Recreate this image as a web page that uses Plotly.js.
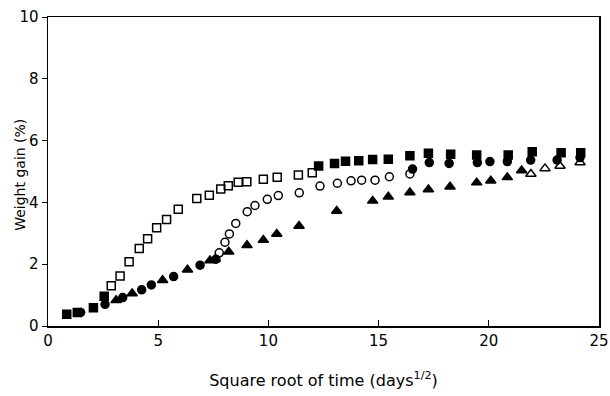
<!DOCTYPE html>
<html>
<head>
<meta charset="utf-8">
<script src="https://cdn.plot.ly/plotly-3.0.1.min.js"></script>
<style>html,body{margin:0;padding:0;background:#fff;}#chart{width:610px;height:396px;}</style>
</head>
<body>
<div id="chart"></div>
<script>
// Filled squares
const sqFilledX = [0.85, 1.33, 2.06, 2.55, 12.28, 13.0, 13.5, 14.1, 14.73, 15.44, 16.42, 17.26, 18.27, 19.45, 20.88, 21.97, 23.28, 24.17];
const sqFilledY = [0.38, 0.44, 0.59, 0.96, 5.18, 5.26, 5.33, 5.35, 5.39, 5.40, 5.51, 5.59, 5.56, 5.53, 5.53, 5.64, 5.61, 5.61];
// Open squares
const sqOpenX = [2.87, 3.27, 3.68, 4.14, 4.52, 4.93, 5.38, 5.91, 6.75, 7.32, 7.84, 8.18, 8.63, 9.02, 9.77, 10.4, 11.36, 11.99];
const sqOpenY = [1.30, 1.62, 2.08, 2.51, 2.82, 3.18, 3.45, 3.78, 4.13, 4.23, 4.43, 4.54, 4.65, 4.67, 4.75, 4.81, 4.89, 4.96];
// Filled circles
const ciFilledX = [1.48, 2.59, 3.39, 4.25, 4.69, 5.70, 6.90, 7.62, 16.54, 17.3, 18.2, 19.48, 20.05, 20.84, 21.9, 23.1, 24.14];
const ciFilledY = [0.44, 0.70, 0.92, 1.17, 1.33, 1.60, 1.97, 2.16, 5.08, 5.29, 5.26, 5.29, 5.32, 5.32, 5.37, 5.37, 5.45];
// Open circles
const ciOpenX = [7.77, 8.03, 8.23, 8.52, 9.04, 9.39, 9.95, 10.45, 11.4, 12.34, 13.13, 13.75, 14.23, 14.84, 15.49, 16.42];
const ciOpenY = [2.37, 2.71, 2.98, 3.32, 3.70, 3.90, 4.10, 4.22, 4.31, 4.53, 4.62, 4.70, 4.72, 4.72, 4.83, 4.92];
// Filled triangles
const trFilledX = [3.09, 3.82, 5.20, 6.33, 7.35, 7.58, 8.20, 9.03, 9.77, 10.38, 11.39, 13.1, 14.73, 15.44, 16.42, 17.26, 18.24, 19.45, 20.09, 20.84, 21.49];
const trFilledY = [0.83, 1.05, 1.48, 1.82, 2.12, 2.16, 2.40, 2.61, 2.78, 2.98, 3.24, 3.72, 4.05, 4.18, 4.32, 4.42, 4.51, 4.64, 4.70, 4.81, 5.03];
// Open triangles
const trOpenX = [21.91, 22.55, 23.23, 24.14];
const trOpenY = [4.92, 5.10, 5.18, 5.29];

const xTicks = [0, 5, 10, 15, 20, 25];
const yTicks = [0, 2, 4, 6, 8, 10];
const yTitle = 'Weight gain (%)';
const xTitle = 'Square root of time (days<sup>1/2</sup>)';

function tr(x, y, symbol, size) {
  return {
    x: x, y: y, type: 'scatter', mode: 'markers', hoverinfo: 'skip',
    marker: {symbol: symbol, size: size, color: '#000', line: {color: '#000', width: 1.5}}
  };
}

const data = [
  tr(sqOpenX, sqOpenY, 'square-open', 8),
  tr(ciOpenX, ciOpenY, 'circle-open', 8),
  tr(trOpenX, trOpenY, 'triangle-up-open', 9),
  tr(sqFilledX, sqFilledY, 'square', 8),
  tr(ciFilledX, ciFilledY, 'circle', 8),
  tr(trFilledX, trFilledY, 'triangle-up', 9)
];

const font = {family: 'DejaVu Sans, sans-serif', color: '#000'};
const layout = {
  width: 610, height: 396,
  margin: {l: 48, r: 11, t: 17, b: 70},
  paper_bgcolor: '#fff', plot_bgcolor: '#fff',
  showlegend: false,
  font: Object.assign({size: 14}, font),
  xaxis: {
    range: [0, 25], tickvals: xTicks, ticktext: xTicks.map(String),
    ticks: 'inside', ticklen: 6, tickcolor: '#000', tickwidth: 1,
    showline: true, linecolor: '#000', linewidth: 1.5, mirror: true,
    showgrid: false, zeroline: false,
    tickfont: Object.assign({size: 15}, font),
    title: {text: xTitle, font: Object.assign({size: 16}, font), standoff: 26}
  },
  yaxis: {
    range: [0, 10], tickvals: yTicks, ticktext: yTicks.map(String),
    ticks: 'outside', ticklen: 5, tickcolor: '#000', tickwidth: 1,
    showline: true, linecolor: '#000', linewidth: 1.5, mirror: true,
    showgrid: false, zeroline: false,
    tickfont: Object.assign({size: 15}, font)
  },
  annotations: [{
    text: yTitle, xref: 'paper', yref: 'paper', x: -0.051, y: 0.489,
    xanchor: 'center', yanchor: 'middle', textangle: -90, showarrow: false,
    font: Object.assign({size: 14}, font)
  }]
};

Plotly.newPlot('chart', data, layout, {staticPlot: true, displayModeBar: false});
</script>
</body>
</html>
